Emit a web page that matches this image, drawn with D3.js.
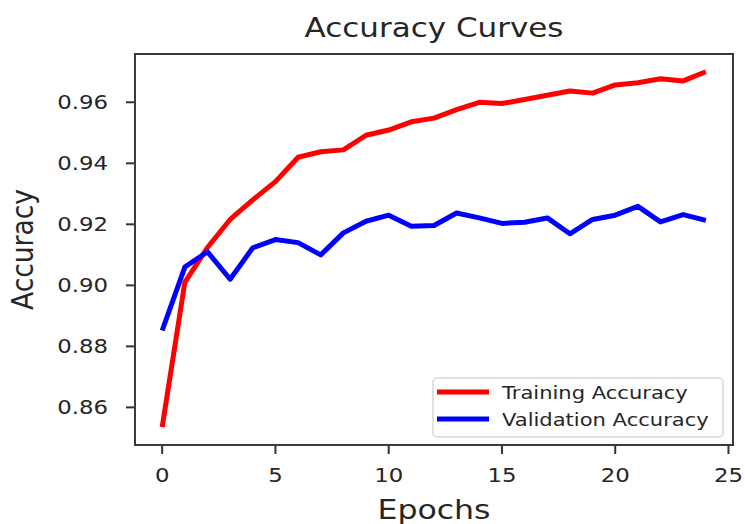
<!DOCTYPE html>
<html>
<head>
<meta charset="utf-8">
<script src="https://cdn.jsdelivr.net/npm/d3@7"></script>
<style>
  body { margin: 0; background: #fff; }
  text { font-family: "DejaVu Sans", sans-serif; fill: #262626; }
</style>
</head>
<body>
<div id="chart"></div>
<script>
// accuracy curves, one value per epoch
const epochs = d3.range(0, 25);
const trainAcc = [0.8535, 0.901, 0.9124, 0.9216, 0.928, 0.934, 0.942, 0.9438, 0.9444, 0.9492,
  0.9509, 0.9536, 0.9548, 0.9576, 0.960, 0.9596, 0.9609, 0.9623, 0.9637, 0.963,
  0.9657, 0.9664, 0.9677, 0.967, 0.970];
const valAcc = [0.8852, 0.906, 0.911, 0.902, 0.9123, 0.915, 0.914, 0.910, 0.9172, 0.921,
  0.923, 0.9194, 0.9196, 0.9237, 0.9221, 0.9203, 0.9207, 0.9221, 0.9169, 0.9216,
  0.923, 0.9259, 0.9208, 0.9232, 0.9213];
const xTicks = [0, 5, 10, 15, 20, 25];
const yTicks = [0.86, 0.88, 0.90, 0.92, 0.94, 0.96];
const seriesNames = ['Training Accuracy', 'Validation Accuracy'];
const seriesColors = ['#ff0000', '#0000ff'];

const W = 745, H = 524;
const margin = { top: 54, right: 12, bottom: 79, left: 135 };
const w = W - margin.left - margin.right;
const h = H - margin.top - margin.bottom;
const SX = 1.17; // picture is stretched sideways a little

// matplotlib style 5% margins
function padded(ext) {
  const d = (ext[1] - ext[0]) * 0.05;
  return [ext[0] - d, ext[1] + d];
}
const x = d3.scaleLinear().domain(padded(d3.extent(epochs))).range([0, w]);
const y = d3.scaleLinear().domain(padded(d3.extent(trainAcc.concat(valAcc)))).range([h, 0]);

const svg = d3.select('#chart').append('svg')
  .attr('width', W).attr('height', H);

// text helper with horizontal stretch
function label(parent, tx, ty, str, size, anchor, rot) {
  const g = parent.append('g')
    .attr('transform', `translate(${tx},${ty}) scale(${SX},1)` + (rot ? ` rotate(${rot})` : ''));
  return g.append('text')
    .attr('text-anchor', anchor || 'middle')
    .style('font-size', size + 'px')
    .text(str);
}

label(svg, margin.left + w / 2, 37, 'Accuracy Curves', 26.5);
label(svg, margin.left + w / 2, 519, 'Epochs', 27);
label(svg, 33, margin.top + h / 2, 'Accuracy', 26.5, 'middle', -90);

const g = svg.append('g').attr('transform', `translate(${margin.left},${margin.top})`);

// x ticks
xTicks.forEach(t => {
  g.append('line')
    .attr('x1', x(t)).attr('x2', x(t))
    .attr('y1', h).attr('y2', h + 9)
    .attr('stroke', '#333').attr('stroke-width', 2);
  label(g, x(t), h + 36.5, String(t), 19.5);
});

// y ticks
yTicks.forEach(t => {
  g.append('line')
    .attr('x1', -9).attr('x2', 0)
    .attr('y1', y(t)).attr('y2', y(t))
    .attr('stroke', '#333').attr('stroke-width', 2);
  label(g, -27, y(t) + 7, t.toFixed(2), 19.5, 'end');
});

// lines
const line = d3.line().x((d, i) => x(epochs[i])).y(d => y(d));
[trainAcc, valAcc].forEach((s, k) => {
  g.append('path')
    .datum(s)
    .attr('d', line)
    .attr('fill', 'none')
    .attr('stroke', seriesColors[k])
    .attr('stroke-width', 5)
    .attr('stroke-linejoin', 'round');
});

// frame
g.append('rect')
  .attr('width', w).attr('height', h)
  .attr('fill', 'none')
  .attr('stroke', '#3a3a3a')
  .attr('stroke-width', 2);

// legend
const lg = g.append('g').attr('transform', `translate(${433 - margin.left},${378 - margin.top})`);
lg.append('rect')
  .attr('width', 290).attr('height', 59)
  .attr('rx', 4)
  .attr('fill', '#fff').attr('fill-opacity', 0.8)
  .attr('stroke', '#d8d8d8').attr('stroke-width', 1.5);
seriesNames.forEach((name, k) => {
  const ly = 14 + k * 27;
  lg.append('line')
    .attr('x1', 4).attr('x2', 56)
    .attr('y1', ly).attr('y2', ly)
    .attr('stroke', seriesColors[k]).attr('stroke-width', 5);
  label(lg, 69, ly + 6.5, name, 18, 'start');
});
</script>
</body>
</html>
